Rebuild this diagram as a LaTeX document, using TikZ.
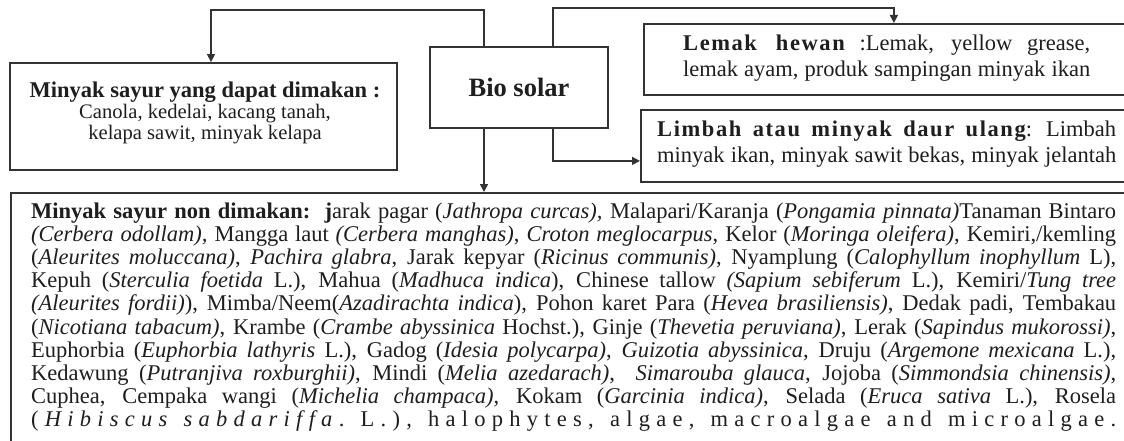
\documentclass[tikz,border=0pt]{standalone}
\usepackage{fontspec}
\setmainfont{Liberation Serif}
\usetikzlibrary{arrows.meta}
\definecolor{ink}{HTML}{1E1E1E}
\definecolor{rulec}{HTML}{333333}
\newcommand{\JLine}[1]{\makebox[\linewidth][s]{#1}}
\newcommand{\LSg}{\hskip 0pt plus 1fill\relax}
\newcommand{\LSw}{\hskip 0pt plus 2.6fill\relax}
\newcommand{\SpBold}[1]{{\bfseries\addfontfeature{LetterSpace=7}#1}}
\begin{document}
\begin{tikzpicture}[x=1pt,y=-1pt,
  box/.style={draw=rulec,line width=1.8pt,inner sep=0pt},
  arr/.style={draw=rulec,line width=1.5pt,-{Triangle[length=8pt,width=8pt]}},
  txt/.style={inner sep=0pt,text=ink},
]
\useasboundingbox (0,0) rectangle (1124,441);
\clip (0,0) rectangle (1124,441);
\fill[white] (0,0) rectangle (1124,441);

% boxes
\node[box,minimum width=178pt,minimum height=81pt,text=ink,font=\fontsize{26.5}{30}\selectfont\bfseries] (bio) at (519,87.5) {Bio solar};
\node[box,minimum width=387pt,minimum height=107pt] (edible) at (203.5,116.5) {};
\node[box,minimum width=500pt,minimum height=71pt,anchor=north west] (lemak) at (643,23) {};
\node[box,minimum width=500pt,minimum height=72pt,anchor=north west] (limbah) at (640,109) {};
\node[box,minimum width=1130pt,minimum height=280pt,anchor=north west] (big) at (10,192) {};

% texts
\node[txt,anchor=base] (edibleT) at (205,98) {\parbox[t]{380pt}{\centering\fontsize{20.6}{21}\selectfont
  {\fontsize{22.5}{21}\selectfont\bfseries Minyak sayur yang dapat dimakan :}\\
  Canola, kedelai, kacang tanah,\\
  kelapa sawit, minyak kelapa}};

\node[txt,anchor=base west] (lemakT) at (683,51) {\parbox[t]{407pt}{\fontsize{22.5}{25.5}\selectfont
  \JLine{\SpBold{Lemak hewan} :Lemak, yellow grease,}\\
  \JLine{lemak ayam, produk sampingan minyak ikan}}};

\node[txt,anchor=base west] (limbahT) at (657,137) {\parbox[t]{459pt}{\fontsize{22.5}{25.5}\selectfont
  \JLine{\SpBold{Limbah atau minyak daur ulang}: Limbah}\\
  \JLine{minyak ikan, minyak sawit bekas, minyak jelantah}}};

\node[txt,anchor=base west] (bigT) at (31,218) {\parbox[t]{1085pt}{\fontsize{22.5}{23.2}\selectfont
  \JLine{\textbf{Minyak sayur non dimakan:\ \ j}arak pagar (\textit{Jathropa curcas),} Malapari/Karanja (\textit{Pongamia pinnata)}Tanaman Bintaro}\\
  \JLine{\textit{(Cerbera odollam),} Mangga laut \textit{(Cerbera manghas)}, \textit{Croton meglocarpus}, Kelor (\textit{Moringa oleifera)}, Kemiri,/kemling}\\
  \JLine{(\textit{Aleurites moluccana)}, \textit{Pachira glabra}, Jarak kepyar (\textit{Ricinus communis)}, Nyamplung (\textit{Calophyllum inophyllum} L),}\\
  \JLine{Kepuh (\textit{Sterculia foetida} L.), Mahua (\textit{Madhuca indica}), Chinese tallow \textit{(Sapium sebiferum} L.), Kemiri/\textit{Tung tree}}\\
  \JLine{\textit{(Aleurites fordii)}), Mimba/Neem(\textit{Azadirachta indica}), Pohon karet Para (\textit{Hevea brasiliensis)}, Dedak padi, Tembakau}\\
  \JLine{(\textit{Nicotiana tabacum)}, Krambe (\textit{Crambe abyssinica} Hochst.), Ginje (\textit{Thevetia peruviana)}, Lerak (\textit{Sapindus mukorossi)},}\\
  \JLine{Euphorbia (\textit{Euphorbia lathyris} L.), Gadog (\textit{Idesia polycarpa)}, \textit{Guizotia abyssinica}, Druju (\textit{Argemone mexicana} L.),}\\
  \JLine{Kedawung (\textit{Putranjiva roxburghii)}, Mindi (\textit{Melia azedarach)},\ \ \textit{Simarouba glauca}, Jojoba (\textit{Simmondsia chinensis)},}\\
  \JLine{Cuphea, Cempaka wangi (\textit{Michelia champaca)}, Kokam (\textit{Garcinia indica)}, Selada (\textit{Eruca sativa} L.), Rosela}\\
  \JLine{(\LSg{\itshape H\LSg i\LSg b\LSg i\LSg s\LSg c\LSg u\LSg s\LSw s\LSg a\LSg b\LSg d\LSg a\LSg r\LSg i\LSg f\LSg f\LSg a}\LSg.\LSw L\LSg.\LSg)\LSg,\LSw h\LSg a\LSg l\LSg o\LSg p\LSg h\LSg y\LSg t\LSg e\LSg s\LSg,\LSw a\LSg l\LSg g\LSg a\LSg e\LSg,\LSw m\LSg a\LSg c\LSg r\LSg o\LSg a\LSg l\LSg g\LSg a\LSg e\LSw a\LSg n\LSg d\LSw m\LSg i\LSg c\LSg r\LSg o\LSg a\LSg l\LSg g\LSg a\LSg e\LSg.}}};

% connectors
\coordinate (bn1) at ([xshift=-35pt]bio.north);
\coordinate (bn2) at ([xshift=34pt]bio.north);
\coordinate (bs1) at ([xshift=-35pt]bio.south);
\coordinate (bs2) at ([xshift=34pt]bio.south);
\coordinate (edIn) at ([xshift=7.5pt]edible.north);
\coordinate (liIn) at ([yshift=-15pt]limbah.west);
\draw[arr] (bn1) -- ++(0,-36) -| (edIn);
\draw[arr] (bn2) -- ++(0,-38) -| (lemak.north);
\draw[arr] (bs1) -- (bs1 |- big.north);
\draw[arr] (bs2) |- (liIn);
\end{tikzpicture}
\end{document}
